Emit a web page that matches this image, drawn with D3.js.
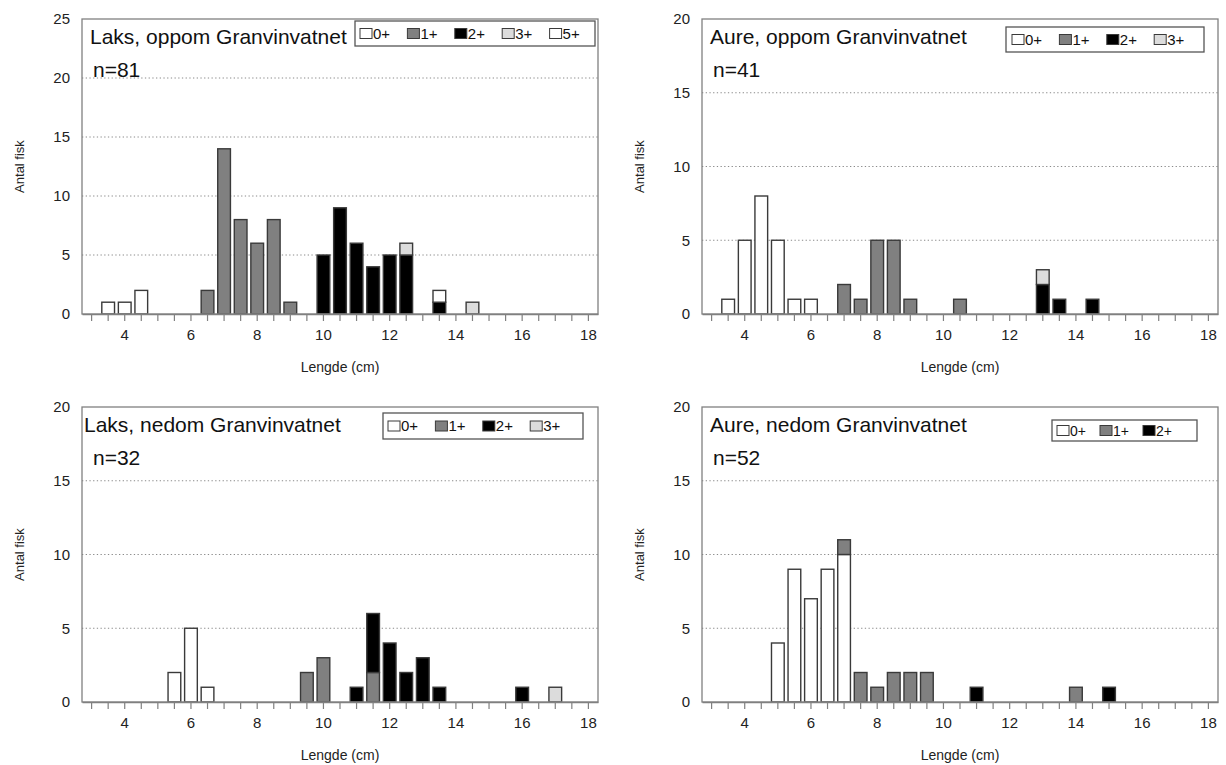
<!DOCTYPE html>
<html><head><meta charset="utf-8">
<script src="https://cdn.jsdelivr.net/npm/d3@7"></script>
<style>
body{margin:0;background:#fff;}
svg{display:block;font-family:"Liberation Sans",Arial,Helvetica,sans-serif;}
</style></head><body>
<svg id="c" width="1226" height="765"></svg>
<script>
// ---------- DATA ----------
const lengths = [3,3.5,4,4.5,5,5.5,6,6.5,7,7.5,8,8.5,9,9.5,10,10.5,11,11.5,12,12.5,13,13.5,14,14.5,15,15.5,16,16.5,17,17.5,18];
const xTickLabels = [4,6,8,10,12,14,16,18];
const yTicks25 = [0,5,10,15,20,25];
const yTicks20 = [0,5,10,15,20];
const ageColors = {"0+":"#ffffff","1+":"#808080","2+":"#000000","3+":"#dcdcdc","5+":"#ffffff"};

// Laks, oppom Granvinvatnet (n=81)
const laksOppom0 = [0,1,1,2,0,0,0,0,0,0,0,0,0,0,0,0,0,0,0,0,0,0,0,0,0,0,0,0,0,0,0];
const laksOppom1 = [0,0,0,0,0,0,0,2,14,8,6,8,1,0,0,0,0,0,0,0,0,0,0,0,0,0,0,0,0,0,0];
const laksOppom2 = [0,0,0,0,0,0,0,0,0,0,0,0,0,0,5,9,6,4,5,5,0,1,0,0,0,0,0,0,0,0,0];
const laksOppom3 = [0,0,0,0,0,0,0,0,0,0,0,0,0,0,0,0,0,0,0,1,0,0,0,1,0,0,0,0,0,0,0];
const laksOppom5 = [0,0,0,0,0,0,0,0,0,0,0,0,0,0,0,0,0,0,0,0,0,1,0,0,0,0,0,0,0,0,0];

// Aure, oppom Granvinvatnet (n=41)
const aureOppom0 = [0,1,5,8,5,1,1,0,0,0,0,0,0,0,0,0,0,0,0,0,0,0,0,0,0,0,0,0,0,0,0];
const aureOppom1 = [0,0,0,0,0,0,0,0,2,1,5,5,1,0,0,1,0,0,0,0,0,0,0,0,0,0,0,0,0,0,0];
const aureOppom2 = [0,0,0,0,0,0,0,0,0,0,0,0,0,0,0,0,0,0,0,0,2,1,0,1,0,0,0,0,0,0,0];
const aureOppom3 = [0,0,0,0,0,0,0,0,0,0,0,0,0,0,0,0,0,0,0,0,1,0,0,0,0,0,0,0,0,0,0];

// Laks, nedom Granvinvatnet (n=32)
const laksNedom0 = [0,0,0,0,0,2,5,1,0,0,0,0,0,0,0,0,0,0,0,0,0,0,0,0,0,0,0,0,0,0,0];
const laksNedom1 = [0,0,0,0,0,0,0,0,0,0,0,0,0,2,3,0,0,2,0,0,0,0,0,0,0,0,0,0,0,0,0];
const laksNedom2 = [0,0,0,0,0,0,0,0,0,0,0,0,0,0,0,0,1,4,4,2,3,1,0,0,0,0,1,0,0,0,0];
const laksNedom3 = [0,0,0,0,0,0,0,0,0,0,0,0,0,0,0,0,0,0,0,0,0,0,0,0,0,0,0,0,1,0,0];

// Aure, nedom Granvinvatnet (n=52)
const aureNedom0 = [0,0,0,0,4,9,7,9,10,0,0,0,0,0,0,0,0,0,0,0,0,0,0,0,0,0,0,0,0,0,0];
const aureNedom1 = [0,0,0,0,0,0,0,0,1,2,1,2,2,2,0,0,0,0,0,0,0,0,1,0,0,0,0,0,0,0,0];
const aureNedom2 = [0,0,0,0,0,0,0,0,0,0,0,0,0,0,0,0,1,0,0,0,0,0,0,0,1,0,0,0,0,0,0];

const panels = [
  {title:"Laks, oppom Granvinvatnet", n:"n=81", ymax:25, yTicks:yTicks25,
   series:{"0+":laksOppom0,"1+":laksOppom1,"2+":laksOppom2,"3+":laksOppom3,"5+":laksOppom5},
   L:82, T:19, titleDx:8, legend:{x:355, dy:2, w:240, h:25, pad:5, step:47.4, fs:15}},
  {title:"Aure, oppom Granvinvatnet", n:"n=41", ymax:20, yTicks:yTicks20,
   series:{"0+":aureOppom0,"1+":aureOppom1,"2+":aureOppom2,"3+":aureOppom3},
   L:702, T:19, titleDx:8, legend:{x:1006, dy:8, w:198, h:25, pad:6, step:47.4, fs:15}},
  {title:"Laks, nedom Granvinvatnet", n:"n=32", ymax:20, yTicks:yTicks20,
   series:{"0+":laksNedom0,"1+":laksNedom1,"2+":laksNedom2,"3+":laksNedom3},
   L:82, T:407, titleDx:2, legend:{x:383, dy:6, w:200, h:26, pad:5, step:47.4, fs:15}},
  {title:"Aure, nedom Granvinvatnet", n:"n=52", ymax:20, yTicks:yTicks20,
   series:{"0+":aureNedom0,"1+":aureNedom1,"2+":aureNedom2},
   L:702, T:407, titleDx:8, legend:{x:1052, dy:13, w:145, h:21, pad:5, step:43, fs:14}}
];

// ---------- DRAW ----------
const svg = d3.select("#c");
const W = 516, H = 295;
const frameCol = "#808080";

panels.forEach(p => {
  const g = svg.append("g");
  const L = p.L, T = p.T, B = T + H;
  const keys = Object.keys(p.series);
  const x = d3.scaleBand().domain(lengths).range([L, L + W]).padding(0.16);
  const y = d3.scaleLinear().domain([0, p.ymax]).range([B, T]);

  // gridlines
  g.selectAll("line.grid").data(p.yTicks.filter(t => t > 0 && t < p.ymax)).join("line")
    .attr("x1", L).attr("x2", L + W).attr("y1", d => y(d)).attr("y2", d => y(d))
    .attr("stroke", "#8a8a8a").attr("stroke-width", 1).attr("stroke-dasharray", "1.3,2.4");

  // stacked bars
  const rows = lengths.map((l, i) => {
    const r = {len: l};
    keys.forEach(k => r[k] = p.series[k][i]);
    return r;
  });
  const stacked = d3.stack().keys(keys)(rows);
  stacked.forEach(layer => {
    g.selectAll(null).data(layer.filter(d => d[1] - d[0] > 0)).join("rect")
      .attr("x", d => x(d.data.len) + 0.6)
      .attr("width", x.bandwidth() - 1.2)
      .attr("y", d => y(d[1]))
      .attr("height", d => y(d[0]) - y(d[1]))
      .attr("fill", ageColors[layer.key])
      .attr("stroke", "#3a3a3a").attr("stroke-width", 1.4);
  });

  // frame
  g.append("rect").attr("x", L).attr("y", T).attr("width", W).attr("height", H)
    .attr("fill", "none").attr("stroke", frameCol).attr("stroke-width", 1.3);

  // x axis
  const xa = g.append("g").attr("transform", `translate(0,${B})`)
    .call(d3.axisBottom(x).tickValues(lengths).tickSize(7).tickSizeOuter(0).tickPadding(8)
      .tickFormat(d => xTickLabels.includes(d) ? d : ""));
  xa.select(".domain").attr("stroke", frameCol).attr("stroke-width", 1.3);
  xa.selectAll(".tick line").attr("stroke", frameCol).attr("stroke-width", 1.2);
  xa.selectAll(".tick text").attr("font-size", 15).attr("fill", "#222")
    .attr("font-family", '"Liberation Sans",Arial,sans-serif');

  // y axis
  const ya = g.append("g").attr("transform", `translate(${L},0)`)
    .call(d3.axisLeft(y).tickValues(p.yTicks).tickSize(0).tickPadding(12));
  ya.select(".domain").remove();
  ya.selectAll(".tick text").attr("font-size", 15).attr("fill", "#222")
    .attr("font-family", '"Liberation Sans",Arial,sans-serif');

  // axis titles
  g.append("text").attr("x", L + W / 2).attr("y", B + 58).attr("text-anchor", "middle")
    .attr("font-size", 14).attr("fill", "#222").text("Lengde (cm)");
  g.append("text").attr("transform", `translate(${L - 58},${T + H / 2}) rotate(-90)`)
    .attr("text-anchor", "middle").attr("font-size", 13).attr("fill", "#222").text("Antal fisk");

  // panel title and n
  g.append("text").attr("x", L + p.titleDx).attr("y", T + 25)
    .attr("font-size", 21).attr("fill", "#111").text(p.title);
  g.append("text").attr("x", L + 11).attr("y", T + 58)
    .attr("font-size", 21).attr("fill", "#111").text(p.n);

  // legend
  const lg = p.legend;
  const ly = T + lg.dy;
  g.append("rect").attr("x", lg.x).attr("y", ly).attr("width", lg.w).attr("height", lg.h)
    .attr("fill", "#fff").attr("stroke", "#555").attr("stroke-width", 1.3);
  keys.forEach((k, i) => {
    const ix = lg.x + lg.pad + i * lg.step;
    const cy = ly + lg.h / 2;
    g.append("rect").attr("x", ix).attr("y", cy - 5).attr("width", 12).attr("height", 10)
      .attr("fill", ageColors[k]).attr("stroke", "#3a3a3a").attr("stroke-width", 1);
    g.append("text").attr("x", ix + 13).attr("y", cy).attr("dy", "0.36em")
      .attr("font-size", lg.fs).attr("fill", "#111").text(k);
  });
});
</script>
</body></html>
